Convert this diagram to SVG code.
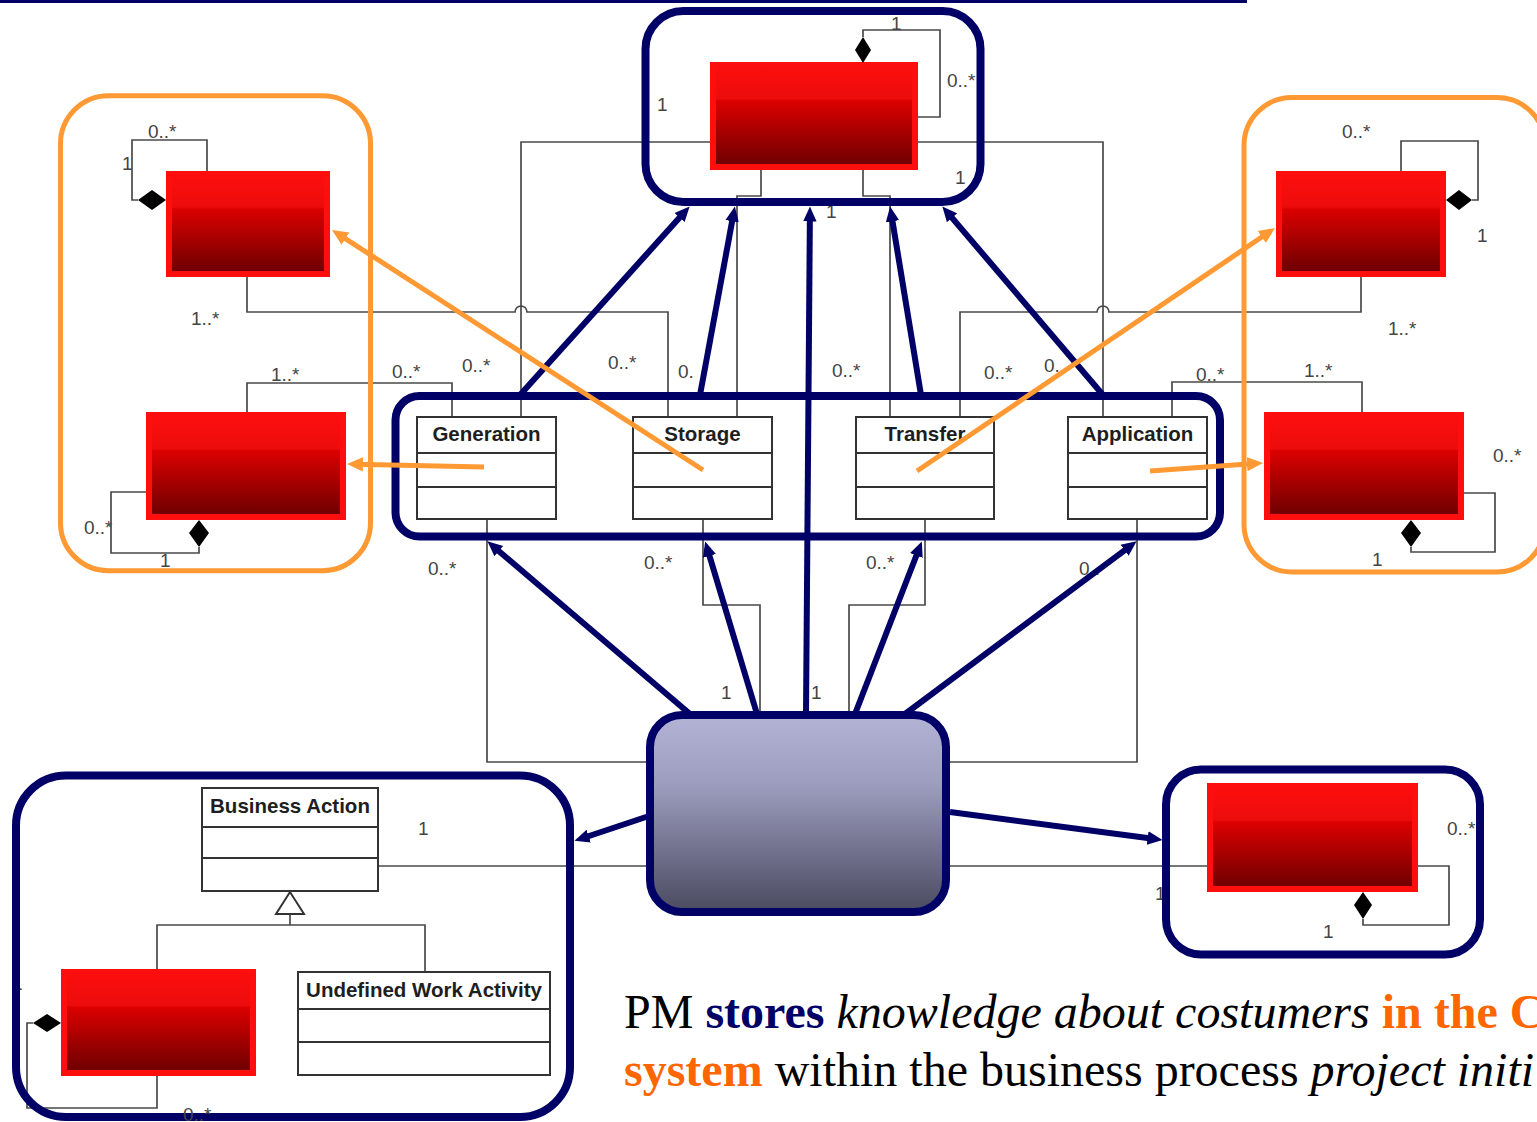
<svg xmlns="http://www.w3.org/2000/svg" width="1537" height="1122" viewBox="0 0 1537 1122">
<style>
.ln{fill:none;stroke:#4a4a4a;stroke-width:1.7}
.cls{fill:#fff;stroke:#333;stroke-width:2}
.dv{stroke:#333;stroke-width:2}
.cn{font-family:"Liberation Sans",Arial,sans-serif;font-size:20.5px;font-weight:bold;fill:#1e1e1e;text-anchor:middle}
.lb{font-family:"Liberation Sans",Arial,sans-serif;font-size:19px;fill:#444}
.ro{fill:#ff0e0e}
.ri{fill:url(#redGrad)}
.dm{fill:#000}
.nv{fill:none;stroke:#000066;stroke-width:8}
.og{fill:none;stroke:#ff9933;stroke-width:5}
.na{fill:none;stroke:#000066;stroke-width:6;marker-end:url(#ah)}
.oa{fill:none;stroke:#ff9933;stroke-width:5;marker-end:url(#oh)}
.bt{font-family:"Liberation Serif","Times New Roman",serif;font-size:48px;fill:#000}
</style>
<defs>
<linearGradient id="redGrad" x1="0" y1="0" x2="0" y2="1">
<stop offset="0" stop-color="#ff0e0e"/>
<stop offset="0.36" stop-color="#ec0c0c"/>
<stop offset="0.38" stop-color="#dc0000"/>
<stop offset="1" stop-color="#700000"/>
</linearGradient>
<linearGradient id="pmGrad" x1="0" y1="0" x2="0" y2="1">
<stop offset="0" stop-color="#b3b3d6"/>
<stop offset="0.35" stop-color="#9d9dbf"/>
<stop offset="1" stop-color="#4a4a60"/>
</linearGradient>
<marker id="ah" viewBox="0 0 10 10" refX="5" refY="5" markerWidth="15" markerHeight="15" markerUnits="userSpaceOnUse" orient="auto">
<path d="M0,0.5 L10,5 L0,9.5 Z" fill="#000066"/>
</marker>
<marker id="oh" viewBox="0 0 10 10" refX="5" refY="5" markerWidth="16" markerHeight="16" markerUnits="userSpaceOnUse" orient="auto">
<path d="M0,0.5 L10,5 L0,9.5 Z" fill="#ff9933"/>
</marker>
</defs>
<rect width="1537" height="1122" fill="#fff"/>
<rect x="0" y="0" width="1247" height="3" fill="#000066"/>

<g id="connectors">
<path class="ln" d="M521 417 V142 H712"/>
<path class="ln" d="M1103 417 V142 H916"/>
<path class="ln" d="M761 170 V196 H737 V417"/>
<path class="ln" d="M863 170 V196 H890 V417"/>
<path class="ln" d="M863 37 V30 H940 V117 H918"/>
<path class="ln" d="M247 277 V312 H515 A6 6 0 0 1 527 312 H668 V417"/>
<path class="ln" d="M247 413 V383 H452 V417"/>
<path class="ln" d="M138 200 H132 V140 H207 V171"/>
<path class="ln" d="M147 492 H111 V553 H199 V547"/>
<path class="ln" d="M1361 277 V312 H1109 A6 6 0 0 0 1097 312 H960 V417"/>
<path class="ln" d="M1362 413 V382 H1172 V417"/>
<path class="ln" d="M1401 171 V141 H1478 V200 H1472"/>
<path class="ln" d="M1463 493 H1495 V552 H1411 V547"/>
<path class="ln" d="M487 519 V762 H652"/>
<path class="ln" d="M703 519 V605 H760 V715"/>
<path class="ln" d="M925 519 V605 H849 V715"/>
<path class="ln" d="M1137 519 V762 H946"/>
<path class="ln" d="M378 866 H1207"/>
<path class="ln" d="M290 914 V925 M157 969 V925 H425 V973"/>
<path class="ln" d="M33 1023 H27 V1108 H157 V1075"/>
<path class="ln" d="M1418 866 H1449 V925 H1363 V919"/>
</g>

<g id="labels">
<text class="lb" x="891" y="30">1</text>
<text class="lb" x="947" y="87">0..*</text>
<text class="lb" x="657" y="111">1</text>
<text class="lb" x="955" y="184">1</text>
<text class="lb" x="826" y="218">1</text>
<text class="lb" x="148" y="138">0..*</text>
<text class="lb" x="122" y="170">1</text>
<text class="lb" x="191" y="325">1..*</text>
<text class="lb" x="271" y="381">1..*</text>
<text class="lb" x="392" y="378">0..*</text>
<text class="lb" x="84" y="534">0..*</text>
<text class="lb" x="160" y="567">1</text>
<text class="lb" x="462" y="372">0..*</text>
<text class="lb" x="608" y="369">0..*</text>
<text class="lb" x="678" y="378">0.</text>
<text class="lb" x="832" y="377">0..*</text>
<text class="lb" x="984" y="379">0..*</text>
<text class="lb" x="1044" y="372">0.</text>
<text class="lb" x="1196" y="381">0..*</text>
<text class="lb" x="1304" y="377">1..*</text>
<text class="lb" x="1342" y="138">0..*</text>
<text class="lb" x="1477" y="242">1</text>
<text class="lb" x="1388" y="335">1..*</text>
<text class="lb" x="1493" y="462">0..*</text>
<text class="lb" x="1372" y="566">1</text>
<text class="lb" x="428" y="575">0..*</text>
<text class="lb" x="644" y="569">0..*</text>
<text class="lb" x="866" y="569">0..*</text>
<text class="lb" x="1079" y="575">0..</text>
<text class="lb" x="721" y="699">1</text>
<text class="lb" x="811" y="699">1</text>
<text class="lb" x="418" y="835">1</text>
<text class="lb" x="1447" y="835">0..*</text>
<text class="lb" x="1323" y="938">1</text>
<text class="lb" x="12" y="990">1</text>
<text class="lb" x="1155" y="900">1</text>
</g>

<g id="top-class">
<rect class="ro" x="710" y="62" width="208" height="108"/>
<rect class="ri" x="716" y="62" width="196" height="102"/>
<path class="dm" d="M863 37 L871 50 L863 63 L855 50 Z"/>
</g>
<g id="left-top-class">
<rect class="ro" x="166" y="171" width="164" height="106"/>
<rect class="ri" x="172" y="171" width="152" height="100"/>
<path class="dm" d="M138 200 L152 190 L166 200 L152 210 Z"/>
</g>
<g id="left-bottom-class">
<rect class="ro" x="146" y="412" width="200" height="108"/>
<rect class="ri" x="152" y="412" width="188" height="102"/>
<path class="dm" d="M199 520 L209 533 L199 547 L189 533 Z"/>
</g>
<g id="right-top-class">
<rect class="ro" x="1276" y="171" width="170" height="106"/>
<rect class="ri" x="1282" y="171" width="158" height="100"/>
<path class="dm" d="M1446 200 L1459 190 L1472 200 L1459 210 Z"/>
</g>
<g id="right-bottom-class">
<rect class="ro" x="1264" y="412" width="200" height="108"/>
<rect class="ri" x="1270" y="412" width="188" height="102"/>
<path class="dm" d="M1411 520 L1421 533 L1411 547 L1401 533 Z"/>
</g>

<g id="generation">
<rect class="cls" x="417" y="417" width="139" height="102"/>
<line class="dv" x1="417" y1="453" x2="556" y2="453"/>
<line class="dv" x1="417" y1="487" x2="556" y2="487"/>
<text class="cn" x="486.5" y="441">Generation</text>
</g>
<g id="storage">
<rect class="cls" x="633" y="417" width="139" height="102"/>
<line class="dv" x1="633" y1="453" x2="772" y2="453"/>
<line class="dv" x1="633" y1="487" x2="772" y2="487"/>
<text class="cn" x="702.5" y="441">Storage</text>
</g>
<g id="transfer">
<rect class="cls" x="856" y="417" width="138" height="102"/>
<line class="dv" x1="856" y1="453" x2="994" y2="453"/>
<line class="dv" x1="856" y1="487" x2="994" y2="487"/>
<text class="cn" x="925" y="441">Transfer</text>
</g>
<g id="application">
<rect class="cls" x="1068" y="417" width="139" height="102"/>
<line class="dv" x1="1068" y1="453" x2="1207" y2="453"/>
<line class="dv" x1="1068" y1="487" x2="1207" y2="487"/>
<text class="cn" x="1137.5" y="441">Application</text>
</g>

<g id="business-action">
<rect class="cls" x="202" y="788" width="176" height="103"/>
<line class="dv" x1="202" y1="827" x2="378" y2="827"/>
<line class="dv" x1="202" y1="858" x2="378" y2="858"/>
<text class="cn" x="290" y="813">Business Action</text>
<path d="M290 892 L276 914 L304 914 Z" fill="#fff" stroke="#333" stroke-width="2"/>
</g>
<g id="undefined-work-activity">
<rect class="cls" x="298" y="972" width="252" height="103"/>
<line class="dv" x1="298" y1="1009" x2="550" y2="1009"/>
<line class="dv" x1="298" y1="1042" x2="550" y2="1042"/>
<text class="cn" x="424" y="997">Undefined Work Activity</text>
</g>
<g id="bottom-left-class">
<rect class="ro" x="61" y="969" width="195" height="107"/>
<rect class="ri" x="67" y="969" width="183" height="101"/>
<path class="dm" d="M33 1023 L47 1014 L61 1023 L47 1032 Z"/>
</g>
<g id="bottom-right-class">
<rect class="ro" x="1207" y="783" width="211" height="109"/>
<rect class="ri" x="1213" y="783" width="199" height="103"/>
<path class="dm" d="M1363 892 L1372 905 L1363 919 L1354 905 Z"/>
</g>

<g id="pm">
<rect x="650" y="715" width="296" height="197" rx="32" fill="url(#pmGrad)" stroke="#000066" stroke-width="8"/>
</g>

<g id="groups">
<rect id="top-group" class="nv" x="645.5" y="11" width="335" height="191" rx="38"/>
<rect id="mid-group" class="nv" x="395.5" y="396" width="824.5" height="140.5" rx="24"/>
<rect id="bl-group" class="nv" x="16" y="775.5" width="554" height="341.5" rx="50"/>
<rect id="br-group" class="nv" x="1166" y="769.5" width="314" height="185" rx="35"/>
<rect id="left-group" class="og" x="60.5" y="95.7" width="310" height="475" rx="48"/>
<rect id="right-group" class="og" x="1244" y="97.5" width="301" height="474.5" rx="48"/>
</g>
<text class="lb" x="183" y="1121">0..*</text>

<g id="arrows">
<path class="na" d="M520 395 L684.6 212"/>
<path class="na" d="M700 395 L733.5 213.9"/>
<path class="na" d="M806 714 L809.9 214"/>
<path class="na" d="M921 395 L891.3 213.9"/>
<path class="na" d="M1103 395 L947.2 212.1"/>
<path class="na" d="M690 714 L493.1 546.2"/>
<path class="na" d="M757 714 L707.3 548.7"/>
<path class="na" d="M855 714 L919.1 548.5"/>
<path class="na" d="M905 714 L1130.6 545.8"/>
<path class="na" d="M652 815 L581.6 838.5"/>
<path class="na" d="M950 812 L1155.1 839"/>
<path class="oa" d="M484 467 L355 464.2"/>
<path class="oa" d="M703 470 L338.7 234.3"/>
<path class="oa" d="M917 471 L1268.4 232.5"/>
<path class="oa" d="M1150 471 L1255 463.6"/>
</g>

<g id="caption">
<text class="bt" x="624" y="1028">PM <tspan font-weight="bold" fill="#000066">stores</tspan><tspan font-style="italic"> knowledge about costumers </tspan><tspan font-weight="bold" fill="#ff6600">in the C</tspan></text>
<text class="bt" x="624" y="1086"><tspan font-weight="bold" fill="#ff6600">system</tspan> within the business process <tspan font-style="italic">project initi</tspan></text>
</g>
</svg>
